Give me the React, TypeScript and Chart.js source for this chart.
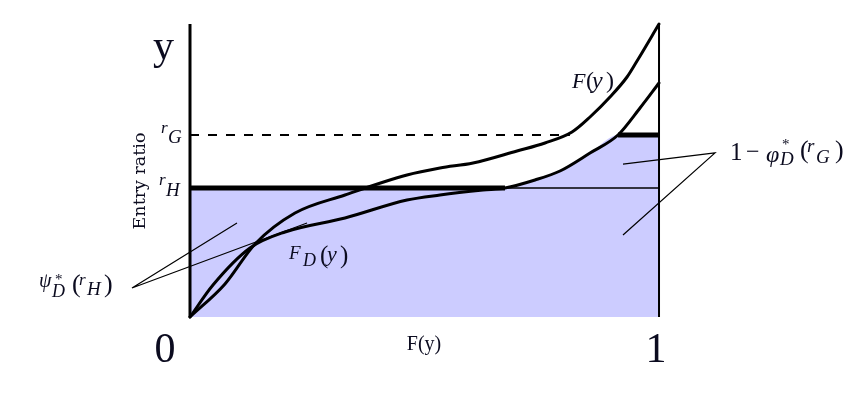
import React, { useEffect, useRef } from 'react';
import { Chart, registerables } from 'chart.js';
Chart.register(...registerables);

// Entry ratio thresholds
const rH = 44.03;
const rG = 62.12;
// Curve F(y)
const fX = [0, 0.0746, 0.1386, 0.2239, 0.3305, 0.4627, 0.533, 0.6034, 0.6972, 0.7569, 0.8145, 0.8529, 0.8955, 0.9318, 0.9531, 1];
const fY = [0, 11.26, 24.91, 35.49, 41.64, 48.46, 50.85, 52.56, 56.66, 59.39, 63.14, 68.26, 75.09, 81.91, 87.37, 100];
// Curve F_D(y)
const fdX = [0, 0.049, 0.1279, 0.2026, 0.3305, 0.4627, 0.533, 0.6247, 0.6716, 0.7356, 0.7889, 0.8529, 0.9126, 0.9595, 1];
const fdY = [0, 10.92, 23.55, 29.01, 33.79, 39.93, 41.64, 43.34, 44.03, 46.76, 49.83, 55.97, 62.12, 71.33, 79.86];
const xDashEnd = 0.81; // where F reaches r_G
// Annotation pointer lines (V shapes)
const psiLineX = [0.1002, -0.1237, 0.2495];
const psiLineY = [32.1, 9.9, 32.1];
const phiLineX = [0.9232, 1.1194, 0.9232];
const phiLineY = [52.2, 56.0, 28.0];

const pts = (xs: number[], ys: number[]) => xs.map((x, i) => ({ x, y: ys[i] }));

// Shaded region: max(rH, min(FD, rG))
function shadePoints() {
  const out: { x: number; y: number }[] = [{ x: 0, y: rH }];
  for (let i = 0; i < fdX.length; i++) {
    if (fdY[i] >= rH && fdY[i] <= rG) out.push({ x: fdX[i], y: fdY[i] });
  }
  out.push({ x: 1, y: rG });
  return out;
}
const xCrossH = fdX[fdY.indexOf(rH)];
const xCrossG = fdX[fdY.indexOf(rG)];

type Seg = { t: string; s: number; it?: boolean; ox: number; oy: number };
const FONT = '"Liberation Serif", "DejaVu Serif", serif';
const TXT = '#0b0b1f';

const mathLabels: { x: number; y: number; segs: Seg[] }[] = [
  { x: -0.0618, y: 59.39, segs: [{ t: 'r', s: 17, it: true, ox: 0, oy: -10 }, { t: 'G', s: 19, it: true, ox: 7, oy: 0 }] },
  { x: -0.0661, y: 41.3, segs: [{ t: 'r', s: 17, it: true, ox: 0, oy: -11 }, { t: 'H', s: 19, it: true, ox: 7, oy: 0 }] },
  {
    x: 0.8166, y: 78.16, segs: [
      { t: 'F', s: 22, it: true, ox: -1, oy: 0 }, { t: '(', s: 24, ox: 13, oy: 0 },
      { t: 'y', s: 24, it: true, ox: 19, oy: 0 }, { t: ')', s: 24, ox: 33, oy: 0 },
    ],
  },
  {
    x: 0.2132, y: 20.82, segs: [
      { t: 'F', s: 19, it: true, ox: -1, oy: 3 }, { t: 'D', s: 18, it: true, ox: 13, oy: 10 },
      { t: '(', s: 25, ox: 30, oy: 7 }, { t: 'y', s: 22, it: true, ox: 37, oy: 5 }, { t: ')', s: 25, ox: 50, oy: 7 },
    ],
  },
  {
    x: -0.3198, y: 9.22, segs: [
      { t: 'ψ', s: 20, it: true, ox: -1, oy: -3 }, { t: '*', s: 15, ox: 15, oy: -6 }, { t: 'D', s: 18, it: true, ox: 12, oy: 7 },
      { t: '(', s: 26, ox: 32, oy: 2 }, { t: 'r', s: 17, it: true, ox: 39, oy: -5 }, { t: 'H', s: 19, it: true, ox: 47, oy: 5 },
      { t: ')', s: 26, ox: 64, oy: 2 },
    ],
  },
  {
    x: 1.1557, y: 53.58, segs: [
      { t: '1', s: 25, ox: -2, oy: 0 }, { t: '−', s: 24, ox: 14, oy: -1 }, { t: 'φ', s: 24, it: true, ox: 34, oy: 2 },
      { t: '*', s: 15, ox: 50, oy: -11 }, { t: 'D', s: 19, it: true, ox: 48, oy: 5 }, { t: '(', s: 26, ox: 68, oy: -2 },
      { t: 'r', s: 19, it: true, ox: 75, oy: -8 }, { t: 'G', s: 19, it: true, ox: 84, oy: 3 }, { t: ')', s: 26, ox: 103, oy: -2 },
    ],
  },
];

const plainLabels = [
  { t: 'y', x: -0.0789, y: 88.05, s: 42, align: 'left' as CanvasTextAlign },
  { t: '0', x: -0.0533, y: -15.36, s: 42, align: 'center' as CanvasTextAlign },
  { t: '1', x: 0.9936, y: -15.36, s: 42, align: 'center' as CanvasTextAlign },
  { t: 'F(y)', x: 0.4989, y: -11.26, s: 20, align: 'center' as CanvasTextAlign },
];
const yTitle = { t: 'Entry ratio', x: -0.1055, y: 46.42, s: 17.5 };

const textPlugin = {
  id: 'texts',
  afterDatasetsDraw(chart: any) {
    const ctx: CanvasRenderingContext2D = chart.ctx;
    const sx = chart.scales.x, sy = chart.scales.y;
    ctx.save();
    ctx.fillStyle = TXT;
    ctx.textBaseline = 'alphabetic';
    for (const l of plainLabels) {
      ctx.font = `${l.s}px ${FONT}`;
      ctx.textAlign = l.align;
      ctx.fillText(l.t, sx.getPixelForValue(l.x), sy.getPixelForValue(l.y));
    }
    ctx.textAlign = 'left';
    for (const m of mathLabels) {
      const bx = sx.getPixelForValue(m.x), by = sy.getPixelForValue(m.y);
      for (const g of m.segs) {
        ctx.font = `${g.it ? 'italic ' : ''}${g.s}px ${FONT}`;
        ctx.fillText(g.t, bx + g.ox, by + g.oy);
      }
    }
    ctx.save();
    ctx.translate(sx.getPixelForValue(yTitle.x), sy.getPixelForValue(yTitle.y));
    ctx.rotate(-Math.PI / 2);
    ctx.textAlign = 'center';
    ctx.textBaseline = 'middle';
    ctx.font = `${yTitle.s}px "DejaVu Serif", serif`;
    ctx.fillText(yTitle.t, 0, 0);
    ctx.restore();
    ctx.restore();
  },
};

export default function App() {
  const ref = useRef<HTMLCanvasElement>(null);
  useEffect(() => {
    if (!ref.current) return;
    const line = (data: any[], w: number, extra: any = {}) => ({
      data, borderColor: '#000', borderWidth: w, pointRadius: 0, showLine: true, fill: false, tension: 0, order: 0, ...extra,
    });
    const chart = new Chart(ref.current, {
      type: 'scatter',
      data: {
        datasets: [
          line(pts(fX, fY), 3, { cubicInterpolationMode: 'monotone', borderCapStyle: 'round', borderJoinStyle: 'round' }),
          line(pts(fdX, fdY), 3, { cubicInterpolationMode: 'monotone', borderCapStyle: 'round', borderJoinStyle: 'round' }),
          line([{ x: 0, y: rH }, { x: xCrossH, y: rH }], 5),
          line([{ x: xCrossH, y: rH }, { x: 1, y: rH }], 1.5),
          line([{ x: xCrossG, y: rG }, { x: 1, y: rG }], 5),
          line([{ x: 0, y: rG }, { x: xDashEnd, y: rG }], 2, { borderDash: [9, 9] }),
          line([{ x: 0, y: 0 }, { x: 0, y: 100 }], 3),
          line([{ x: 1, y: 0 }, { x: 1, y: 100 }], 2),
          line(pts(psiLineX, psiLineY), 1.2),
          line(pts(phiLineX, phiLineY), 1.2),
          {
            data: shadePoints(), borderWidth: 0, borderColor: 'rgba(0,0,0,0)', pointRadius: 0, showLine: true,
            fill: 'origin', backgroundColor: 'rgb(204,204,255)', cubicInterpolationMode: 'monotone', order: 10,
          },
        ] as any,
      },
      options: {
        animation: false,
        responsive: false,
        devicePixelRatio: 1,
        layout: { padding: 0 },
        plugins: { legend: { display: false }, tooltip: { enabled: false }, title: { display: false } },
        scales: {
          x: { type: 'linear', display: false, min: -0.4051, max: 1.42 },
          y: { type: 'linear', display: false, min: -27.65, max: 108.19 },
        },
      },
      plugins: [textPlugin],
    });
    return () => chart.destroy();
  }, []);
  return (
    <div style={{ position: 'fixed', left: 0, top: 0, width: 856, height: 398, background: '#fff' }}>
      <canvas ref={ref} width={856} height={398} />
    </div>
  );
}
